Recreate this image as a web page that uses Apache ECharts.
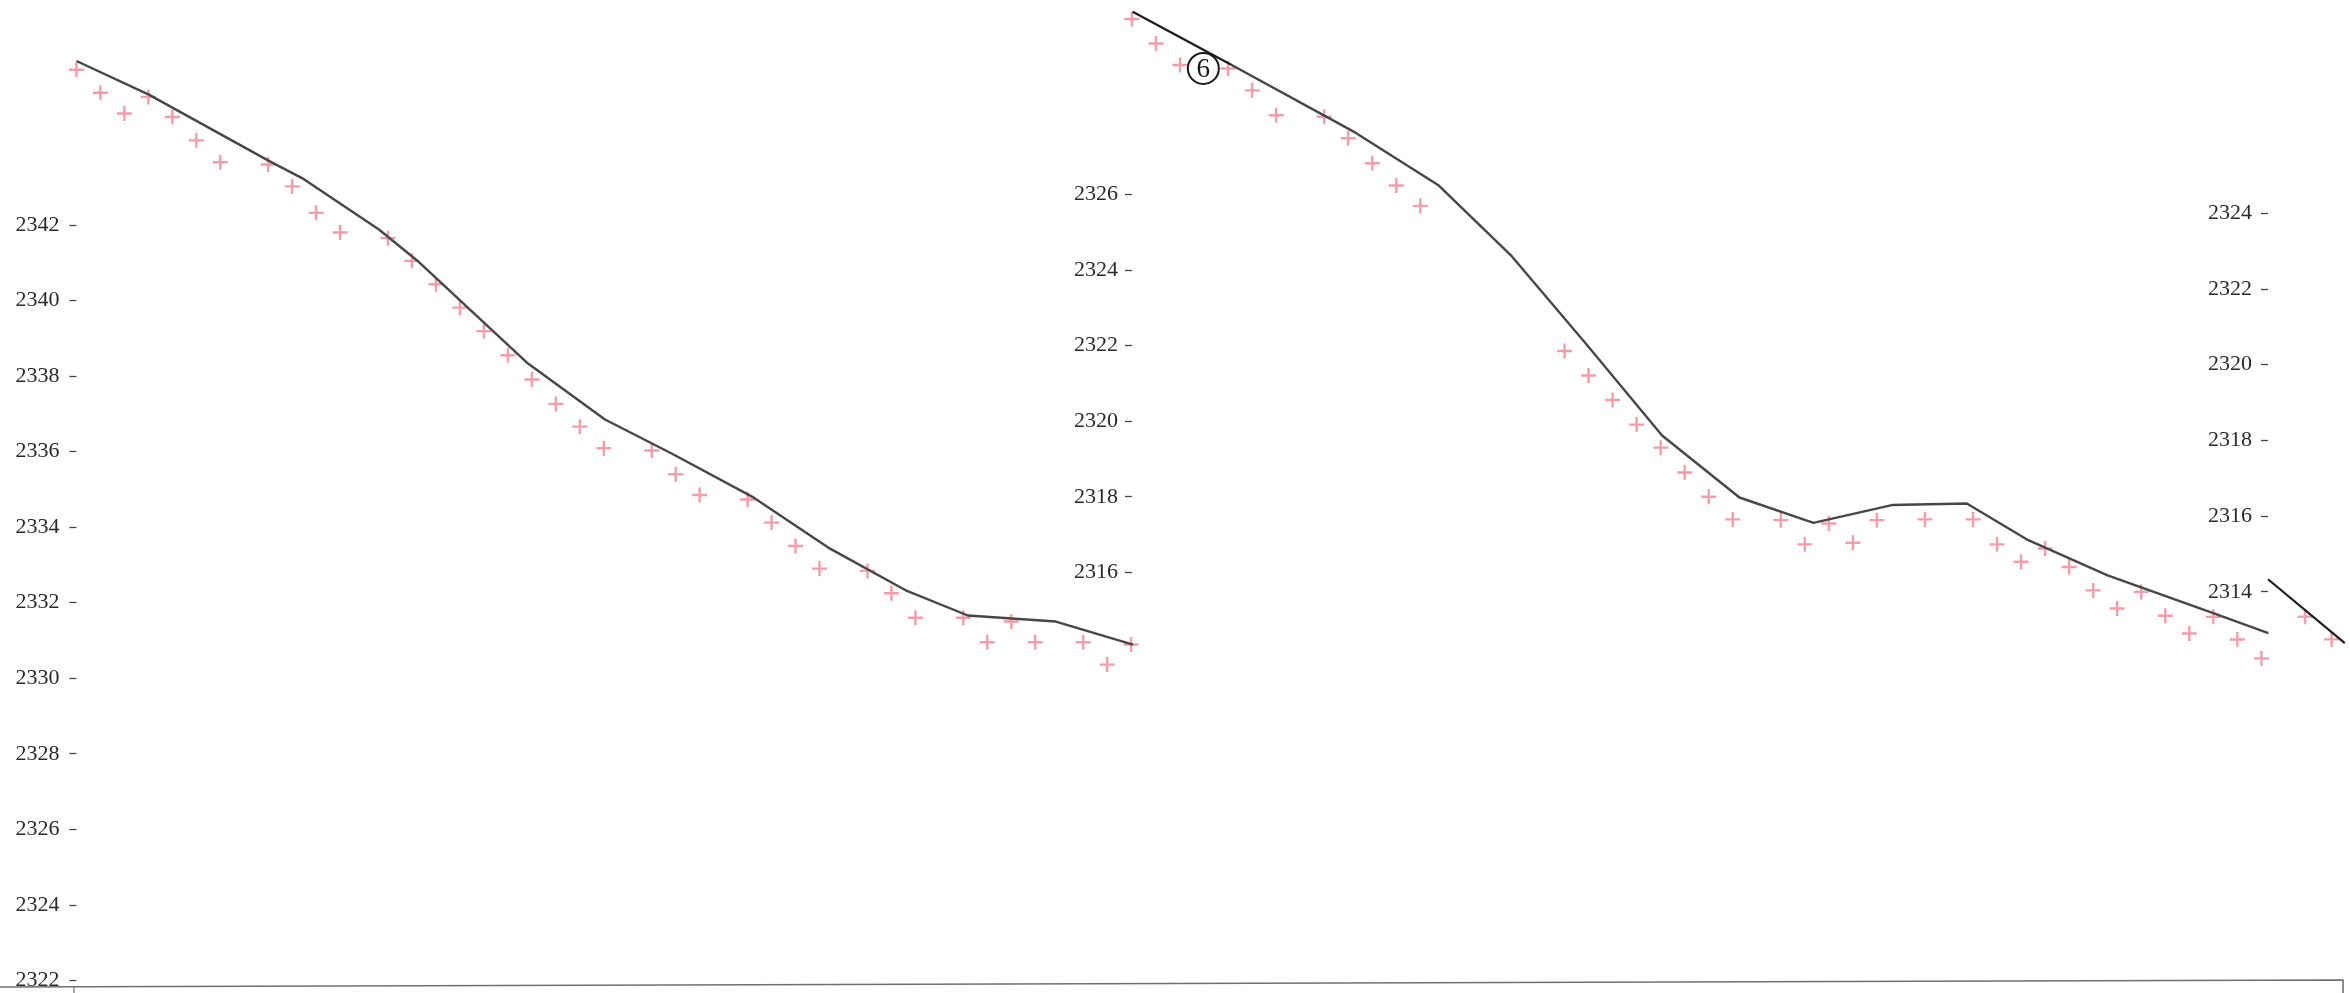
<!DOCTYPE html>
<html>
<head>
<meta charset="utf-8">
<script src="https://cdn.jsdelivr.net/npm/echarts@6/dist/echarts.min.js"></script>
<style>
html,body{margin:0;padding:0;background:#fff;}
#chart{width:2350px;height:993px;}
</style>
</head>
<body>
<div id="chart"></div>
<script>
// ---------- DATA ----------
// Panel 1 : measured points (+) at station index 0..44 (null = not visible)
const p1Markers = [2346.11, 2345.50, 2344.95, 2345.39, 2344.86, 2344.24, 2343.66, null, 2343.60, 2343.02,
  2342.32, 2341.80, null, 2341.65, 2341.05, 2340.43, 2339.81, 2339.19, 2338.55, 2337.91,
  2337.26, 2336.66, 2336.09, null, 2336.03, 2335.40, 2334.85, null, 2334.73, 2334.12,
  2333.50, 2332.90, null, 2332.84, 2332.25, 2331.60, null, 2331.60, 2330.95, 2331.50,
  2330.95, null, 2330.95, 2330.36, 2330.89];
// Panel 1 : profile line (station, elevation)
const p1LineX = [0, 3.02, 7.99, 9.41, 12.62, 14.21, 18.84, 22.05, 24.89, 28.26, 31.44, 34.65, 37.19, 40.86, 44.08];
const p1LineY = [2346.34, 2345.45, 2343.71, 2343.24, 2341.88, 2341.06, 2338.33, 2336.85, 2335.93, 2334.78, 2333.43, 2332.31, 2331.66, 2331.50, 2330.89];
const p1Ticks = [2322, 2324, 2326, 2328, 2330, 2332, 2334, 2336, 2338, 2340, 2342];

// Panel 2 : measured points (+) at station index 0..47
const p2Markers = [2330.65, 2330.00, 2329.43, null, 2329.34, 2328.76, 2328.10, null, 2328.06, 2327.49,
  2326.83, 2326.24, 2325.70, null, null, null, null, null, 2321.86, 2321.21,
  2320.56, 2319.91, 2319.30, 2318.64, 2318.00, 2317.40, null, 2317.38, 2316.74, 2317.29,
  2316.78, 2317.38, null, 2317.40, null, 2317.40, 2316.74, 2316.28, 2316.63, 2316.14,
  2315.52, 2315.04, 2315.48, 2314.85, 2314.38, 2314.82, 2314.22, 2313.72];
// Panel 2 : leading dark segment and profile line
const p2LeadX = [0.03, 4.15];
const p2LeadY = [2330.84, 2329.43];
const p2LineX = [4.15, 9.3, 12.77, 15.76, 18.91, 22.06, 25.28, 28.36, 31.62, 34.74, 37.3, 40.6, 45.11, 47.29];
const p2LineY = [2329.43, 2327.64, 2326.24, 2324.40, 2322.04, 2319.62, 2317.98, 2317.31, 2317.78, 2317.82, 2316.85, 2315.92, 2314.89, 2314.39];
const p2Ticks = [2316, 2318, 2320, 2322, 2324, 2326];
const p2Note = {label: '6', x: 2.97, y: 2329.34};

// Panel 3
const p3MarkerX = [1.54, 2.65];
const p3MarkerY = [2313.34, 2312.74];
const p3LeadX = [0, 3.2];
const p3LeadY = [2314.33, 2312.64];
const p3Ticks = [2314, 2316, 2318, 2320, 2322, 2324];

// ---------- BUILD ----------
const plus = 'path://M-0.16,-1 L0.16,-1 L0.16,-0.16 L1,-0.16 L1,0.16 L0.16,0.16 L0.16,1 L-0.16,1 L-0.16,0.16 L-1,0.16 L-1,-0.16 L-0.16,-0.16 Z';
const markerColor = '#ef8593';
const lineColor = '#474747';
const darkColor = '#1c1c1c';
const fontFam = '"Liberation Serif", "DejaVu Serif", serif';

function pairs(xs, ys) { return xs.map((x, i) => [x, ys[i]]); }
function idxPairs(vals) { const out = []; vals.forEach((v, i) => { if (v !== null) out.push([i, v]); }); return out; }

function yAxis(gi, min, max, ticks, margin) {
  return {
    type: 'value', gridIndex: gi, min: min, max: max, position: 'left',
    axisLine: {show: false},
    splitLine: {show: false},
    axisTick: {show: true, length: 7, customValues: ticks, lineStyle: {color: '#444', width: 1.3}},
    axisLabel: {show: true, customValues: ticks, margin: margin, color: '#2a2a2a',
      fontFamily: fontFam, fontSize: 22, formatter: v => String(v)}
  };
}
function xAxis(gi, min, max) {
  return {type: 'value', gridIndex: gi, min: min, max: max, show: false};
}

const option = {
  backgroundColor: '#ffffff',
  animation: false,
  grid: [
    {left: 75, top: 36.1, width: 1060.9, height: 944.25},
    {left: 1131, top: 5.75, width: 1137.6, height: 717.6},
    {left: 2268, top: 24.1, width: 81.6, height: 719}
  ],
  xAxis: [xAxis(0, -0.06, 44.2), xAxis(1, -0.04, 47.3), xAxis(2, 0, 3.4)],
  yAxis: [
    yAxis(0, 2322, 2347, p1Ticks, 15.5),
    yAxis(1, 2312, 2331, p2Ticks, 13),
    yAxis(2, 2310, 2329, p3Ticks, 16)
  ],
  series: [
    {type: 'line', xAxisIndex: 0, yAxisIndex: 0, data: pairs(p1LineX, p1LineY), showSymbol: false, clip: false,
      lineStyle: {color: lineColor, width: 2.4}, z: 3},
    {type: 'scatter', xAxisIndex: 0, yAxisIndex: 0, data: idxPairs(p1Markers), symbol: plus, symbolSize: 15, clip: false,
      itemStyle: {color: markerColor}, z: 2},
    {type: 'line', xAxisIndex: 1, yAxisIndex: 1, data: pairs(p2LeadX, p2LeadY), showSymbol: false, clip: false,
      lineStyle: {color: darkColor, width: 2.2}, z: 3},
    {type: 'line', xAxisIndex: 1, yAxisIndex: 1, data: pairs(p2LineX, p2LineY), showSymbol: false, clip: false,
      lineStyle: {color: lineColor, width: 2.4}, z: 3},
    {type: 'scatter', xAxisIndex: 1, yAxisIndex: 1, data: idxPairs(p2Markers), symbol: plus, symbolSize: 15, clip: false,
      itemStyle: {color: markerColor}, z: 2,
      markPoint: {
        symbol: 'circle', symbolSize: 31, silent: true,
        itemStyle: {color: '#ffffff', borderColor: '#1a1a1a', borderWidth: 2},
        label: {show: true, formatter: p2Note.label, color: '#1a1a1a', fontFamily: fontFam, fontSize: 27, offset: [0, 1]},
        data: [{coord: [p2Note.x, p2Note.y]}]
      }},
    {type: 'line', xAxisIndex: 2, yAxisIndex: 2, data: pairs(p3LeadX, p3LeadY), showSymbol: false, clip: false,
      lineStyle: {color: darkColor, width: 2.2}, z: 3},
    {type: 'scatter', xAxisIndex: 2, yAxisIndex: 2, data: pairs(p3MarkerX, p3MarkerY), symbol: plus, symbolSize: 15, clip: false,
      itemStyle: {color: markerColor}, z: 2}
  ],
  graphic: [
    {type: 'polyline', shape: {points: [[0, 987], [2343, 980], [2343, 993]]},
      style: {stroke: '#6f6f6f', lineWidth: 1.6, fill: null}, z: 1},
    {type: 'line', shape: {x1: 74, y1: 987, x2: 74, y2: 993},
      style: {stroke: '#6f6f6f', lineWidth: 1.2}, z: 1}
  ]
};

const chart = echarts.init(document.getElementById('chart'), null, {renderer: 'canvas'});
chart.setOption(option);
</script>
</body>
</html>
